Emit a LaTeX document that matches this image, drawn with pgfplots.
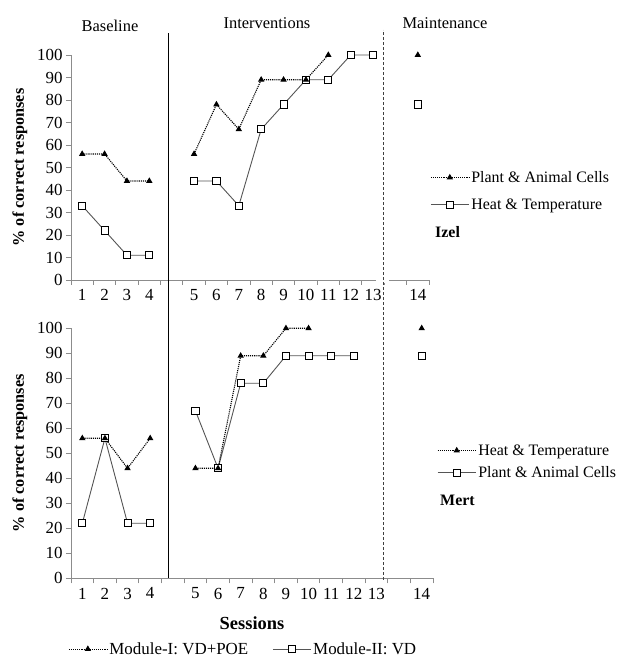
\documentclass[border=0pt]{standalone}
\usepackage{fontspec}
\setmainfont{Liberation Serif}
\usepackage{pgfplots}
\pgfplotsset{compat=1.18}
\definecolor{axisgray}{HTML}{8C8C8C}
\definecolor{linegray}{HTML}{555555}

% x positions: sessions 1-4 -> 1-4, slot 5 empty, sessions 5-13 -> 6-14, slot 15 empty, session 14 -> 16
\pgfplotsset{
  panel/.style={
    scale only axis, clip=false,
    xmin=0.5, xmax=16.5, ymin=0, ymax=100,
    axis x line*=bottom, axis y line*=left,
    axis line style={axisgray, line width=0.8bp},
    xtick={1,...,16},
    xticklabels={1,2,3,4,,5,6,7,8,9,10,11,12,13,,14},
    every major x tick/.style={draw=none},
    minor xtick={0.5,1.5,...,16.5},
    ytick={0,10,...,100},
    tick align=outside,
    tick style={axisgray, line width=0.8bp},
    major tick length=5bp, minor tick length=5bp,
    tick label style={font=\fontsize{17}{20}\selectfont},
    xticklabel style={yshift=-1bp},
    /pgf/number format/assume math mode=true,
    unbounded coords=jump,
    ylabel={\% of correct responses},
    ylabel style={font=\bfseries\fontsize{16.3}{19}\selectfont, anchor=center},
    legend cell align=left,
    legend image code/.code={\draw[mark repeat=2,mark phase=2,##1]
      plot coordinates {(0bp,0bp) (19bp,0bp) (38bp,0bp)};},
  },
  dotS/.style={black, densely dotted, line width=1.1bp, mark=triangle*,
    mark size=2.6bp, mark options={solid, black}},
  boxS/.style={linegray, line width=0.9bp, mark=square*, mark size=3.6bp,
    mark options={solid, draw=black, fill=white}},
}

\begin{document}
\begin{tikzpicture}
\useasboundingbox (0,0) rectangle (622bp,657bp);

% ---- Izel ----
\begin{axis}[panel, at={(71bp,377bp)}, anchor=south west,
  width=358bp, height=225bp,
  ylabel style={at={(axis description cs:-0.1425,0.5)}},
  legend style={at={(1.003,0.493)}, anchor=north west, draw=none, fill=none,
    inner sep=0pt, row sep=11bp, font=\fontsize{16}{19}\selectfont}]
\addplot[boxS, forget plot] coordinates {
  (1,33) (2,22) (3,11) (4,11) (5,nan)
  (6,44) (7,44) (8,33) (9,67) (10,78) (11,89) (12,89) (13,100) (14,100)
  (15,nan) (16,78)};
\addplot[dotS, forget plot] coordinates {
  (1,56) (2,56) (3,44) (4,44) (5,nan)
  (6,56) (7,78) (8,67) (9,89) (10,89) (11,89) (12,100)
  (15,nan) (16,100)};
\addlegendimage{dotS}
\addlegendentry{Plant \& Animal Cells}
\addlegendimage{boxS}
\addlegendentry{Heat \& Temperature}
\end{axis}

% ---- Mert ----
\begin{axis}[panel, at={(71bp,78.7bp)}, anchor=south west,
  width=362bp, height=250bp,
  ylabel style={at={(axis description cs:-0.141,0.5)}},
  xlabel={Sessions},
  xlabel style={font=\bfseries\fontsize{18.5}{21}\selectfont,
    at={(axis description cs:0.5,0)}, anchor=center, yshift=-45bp},
  legend style={at={(1.011,0.544)}, anchor=north west, draw=none, fill=none,
    inner sep=0pt, row sep=6bp, font=\fontsize{16}{19}\selectfont}]
\addplot[boxS, forget plot] coordinates {
  (1,22) (2,56) (3,22) (4,22) (5,nan)
  (6,67) (7,44) (8,78) (9,78) (10,89) (11,89) (12,89) (13,89)
  (15,nan) (16,89)};
\addplot[dotS, forget plot] coordinates {
  (1,56) (2,56) (3,44) (4,56) (5,nan)
  (6,44) (7,44) (8,89) (9,89) (10,100) (11,100)
  (15,nan) (16,100)};
\addlegendimage{dotS}
\addlegendentry{Heat \& Temperature}
\addlegendimage{boxS}
\addlegendentry{Plant \& Animal Cells}
\end{axis}

% ---- shared legend below ----
\begin{axis}[at={(71bp,78.7bp)}, anchor=south west, scale only axis,
  width=362bp, height=250bp, hide axis, xmin=0, xmax=1, ymin=0, ymax=1,
  legend columns=2, legend cell align=left,
  legend image code/.code={\draw[mark repeat=2,mark phase=2,#1]
    plot coordinates {(0bp,0bp) (19bp,0bp) (38bp,0bp)};},
  legend style={at={(-0.008,-0.283)}, anchor=west, draw=none, fill=none,
    inner sep=0pt, font=\fontsize{17}{20}\selectfont,
    /tikz/every even column/.append style={column sep=22bp}}]
\addlegendimage{dotS}
\addlegendentry{Module-I: VD+POE}
\addlegendimage{boxS}
\addlegendentry{Module-II: VD}
\end{axis}

% phase titles, participant names, phase change lines
\fill[white] (376bp,374bp) rectangle (389bp,380bp);
\draw[black, line width=1.1bp] (168.3bp,79bp) -- (168.3bp,624bp);
\draw[black!75, line width=1.3bp, dash pattern=on 3bp off 2bp] (383.5bp,77bp) -- (383.5bp,627bp);
\begin{scope}[every node/.style={font=\fontsize{16.5}{19}\selectfont, inner sep=0pt}]
\node at (110bp,631bp) {Baseline};
\node at (267bp,634bp) {Interventions};
\node at (445bp,634bp) {Maintenance};
\node[anchor=west, font=\bfseries\fontsize{16}{19}\selectfont] at (435bp,425bp) {Izel};
\node[anchor=west, font=\bfseries\fontsize{16}{19}\selectfont] at (440bp,157bp) {Mert};
\end{scope}
\end{tikzpicture}
\end{document}
